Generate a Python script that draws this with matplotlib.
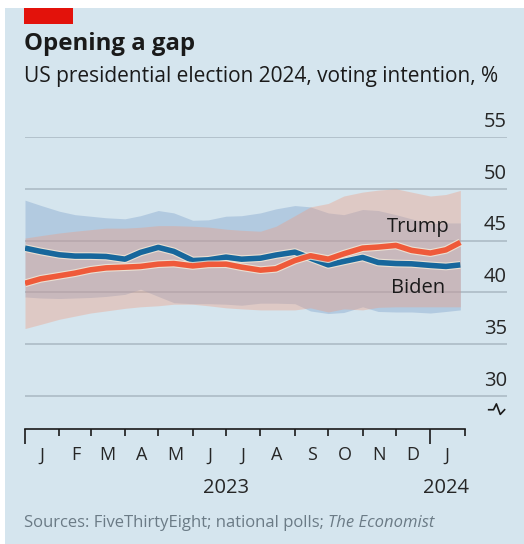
import numpy as np
import pandas as pd
import matplotlib
matplotlib.use("Agg")
import matplotlib.pyplot as plt
import matplotlib.dates as mdates
import matplotlib.patheffects as pe
from matplotlib.transforms import blended_transform_factory

plt.rcParams['font.family'] = ['Open Sans', 'DejaVu Sans']

# data (semi-monthly)
dates = pd.to_datetime([
    "2023-01-01", "2023-01-15", "2023-02-01", "2023-02-15", "2023-03-01", "2023-03-15",
    "2023-04-01", "2023-04-15", "2023-05-01", "2023-05-15", "2023-06-01", "2023-06-15",
    "2023-07-01", "2023-07-15", "2023-08-01", "2023-08-15", "2023-09-01", "2023-09-15",
    "2023-10-01", "2023-10-15", "2023-11-01", "2023-11-15", "2023-12-01", "2023-12-15",
    "2024-01-01", "2024-01-15", "2024-01-28"])

biden = [44.27, 43.95, 43.62, 43.5, 43.5, 43.46, 43.2, 43.85, 44.34, 43.95, 43.07, 43.14,
         43.4, 43.2, 43.3, 43.6, 43.88, 43.3, 42.65, 42.98, 43.37, 42.88, 42.78, 42.75,
         42.6, 42.5, 42.65]
trump = [40.87, 41.3, 41.6, 41.85, 42.17, 42.36, 42.43, 42.5, 42.72, 42.78, 42.55, 42.7,
         42.72, 42.43, 42.14, 42.27, 43.07, 43.53, 43.2, 43.72, 44.27, 44.37, 44.53, 44.05,
         43.79, 44.1, 44.82]
biden_hi = [48.9, 48.4, 47.83, 47.5, 47.35, 47.2, 47.1, 47.4, 47.9, 47.67, 46.96, 47.0,
            47.35, 47.4, 47.67, 48.06, 48.38, 48.25, 47.67, 47.5, 48.0, 47.9, 47.5, 47.1,
            46.63, 46.7, 46.7]
biden_lo = [39.55, 39.45, 39.4, 39.45, 39.5, 39.6, 39.8, 40.3, 39.6, 39.0, 38.9, 38.9,
            38.85, 38.75, 38.95, 38.95, 38.9, 38.2, 37.95, 38.05, 38.6, 38.15, 38.1, 38.1,
            38.0, 38.15, 38.3]
trump_hi = [45.24, 45.47, 45.73, 45.9, 46.05, 46.2, 46.2, 46.28, 46.44, 46.44, 46.38, 46.3,
            46.1, 45.99, 45.9, 46.38, 47.4, 48.25, 48.58, 49.3, 49.68, 49.87, 50.0, 49.68,
            49.3, 49.45, 49.84]
trump_lo = [36.5, 36.9, 37.4, 37.7, 38.0, 38.2, 38.45, 38.6, 38.7, 38.85, 38.85, 38.7,
            38.5, 38.4, 38.3, 38.3, 38.3, 38.5, 38.1, 38.4, 38.3, 38.55, 38.6, 38.6,
            38.6, 38.6, 38.6]

y_ticks = [30, 35, 40, 45, 50, 55]
month_labels = ["J", "F", "M", "A", "M", "J", "J", "A", "S", "O", "N", "D", "J"]
year_labels = ["2023", "2024"]
year_pos = pd.to_datetime(["2023-07-01", "2024-01-15"])

bg = "#d5e5ee"
blue = "#17679c"
red = "#ef5a3a"
ink = "#1a1a1a"

fig = plt.figure(figsize=(5.24, 5.44), dpi=100)
fig.patch.set_facecolor("white")
fig.patches.append(plt.Rectangle((5 / 524, 0), 1, 1 - 8 / 544, transform=fig.transFigure,
                                 facecolor=bg, edgecolor="none", zorder=-10))
fig.patches.append(plt.Rectangle((24 / 524, 1 - 24 / 544), 49 / 524, 16 / 544,
                                 transform=fig.transFigure, facecolor="#e3120b",
                                 edgecolor="none", zorder=-5))

fig.text(24 / 524, 1 - 50 / 544, "Opening a gap", fontsize=17.3, fontweight="bold",
         color=ink, va="baseline")
fig.text(24 / 524, 1 - 82 / 544, "US presidential election 2024, voting intention, %",
         fontsize=15, color=ink, va="baseline")
src = fig.text(24 / 524, 1 - 527 / 544, "Sources: FiveThirtyEight; national polls; ",
               fontsize=12, color="#6b7b86", va="baseline")
fig.canvas.draw()
bb = src.get_window_extent()
fig.text(bb.x1 / fig.bbox.width, 1 - 527 / 544, "The Economist", fontsize=12,
         style="italic", color="#6b7b86", va="baseline")

ax = fig.add_axes([25 / 524, 1 - 429 / 544, 482 / 524, 292 / 544])
ax.set_facecolor("none")
x0 = pd.Timestamp("2023-01-01")
x_end = pd.Timestamp("2024-02-01")
ax.set_xlim(x0, pd.Timestamp("2024-03-10"))
ax.set_ylim(26.8, 55)

for v in y_ticks:
    ax.axhline(v, color="#a9b8c2", lw=1.1, zorder=1)
trans = blended_transform_factory(ax.transAxes, ax.transData)
for v in y_ticks:
    ax.text(1.0, v + 0.5, str(v), transform=trans, ha="right", va="bottom",
            fontsize=14.5, color="#262626")

ax.fill_between(dates, biden_lo, biden_hi, color="#7b9fca", alpha=0.38, lw=0, zorder=2)
ax.fill_between(dates, trump_lo, trump_hi, color="#f09a7e", alpha=0.36, lw=0, zorder=3)

halo = [pe.Stroke(linewidth=5.6, foreground="#f3ead8", alpha=0.8), pe.Normal()]
ax.plot(dates, biden, color=blue, lw=4, solid_capstyle="butt", solid_joinstyle="round",
        zorder=4, path_effects=halo)
ax.plot(dates, trump, color=red, lw=4, solid_capstyle="butt", solid_joinstyle="round",
        zorder=5, path_effects=halo)

ax.text(pd.Timestamp("2023-12-21"), 46.3, "Trump", ha="center", va="center",
        fontsize=14.5, color=ink, zorder=6)
ax.text(pd.Timestamp("2023-12-21"), 40.4, "Biden", ha="center", va="center",
        fontsize=14.5, color=ink, zorder=6)

for s in ["top", "left", "right"]:
    ax.spines[s].set_visible(False)
ax.spines["bottom"].set_bounds(mdates.date2num(x0), mdates.date2num(x_end))
ax.spines["bottom"].set_color(ink)
ax.spines["bottom"].set_linewidth(1.2)
ax.set_yticks([])

month_starts = pd.date_range("2023-01-01", "2024-02-01", freq="MS")
ax.set_xticks(month_starts)
ax.set_xticklabels([])
ax.tick_params(axis="x", which="major", direction="out", length=5, width=1.2, color=ink)
for t, d in zip(ax.xaxis.get_major_ticks(), month_starts):
    if d.month == 1 and d != x_end:
        t.tick1line.set_markersize(11)
mids = month_starts[:-1] + pd.Timedelta(days=15)
ax.set_xticks(mids, minor=True)
ax.set_xticklabels(month_labels, minor=True, fontsize=13, color="#262626")
ax.tick_params(axis="x", which="minor", length=0, pad=12.5)

xtrans = blended_transform_factory(ax.transData, ax.transAxes)
for lab, d in zip(year_labels, year_pos):
    ax.annotate(lab, xy=(mdates.date2num(d), 0), xycoords=xtrans, xytext=(0, -46),
                textcoords="offset points", ha="center", va="baseline",
                fontsize=14.5, color="#262626")

# axis break mark
ax.plot([0.962, 0.972, 0.978, 0.986, 0.995], [0.066, 0.066, 0.086, 0.05, 0.066],
        transform=ax.transAxes, color=ink, lw=1.2, clip_on=False)

fig.savefig("out.png", dpi=100, facecolor=fig.get_facecolor())
